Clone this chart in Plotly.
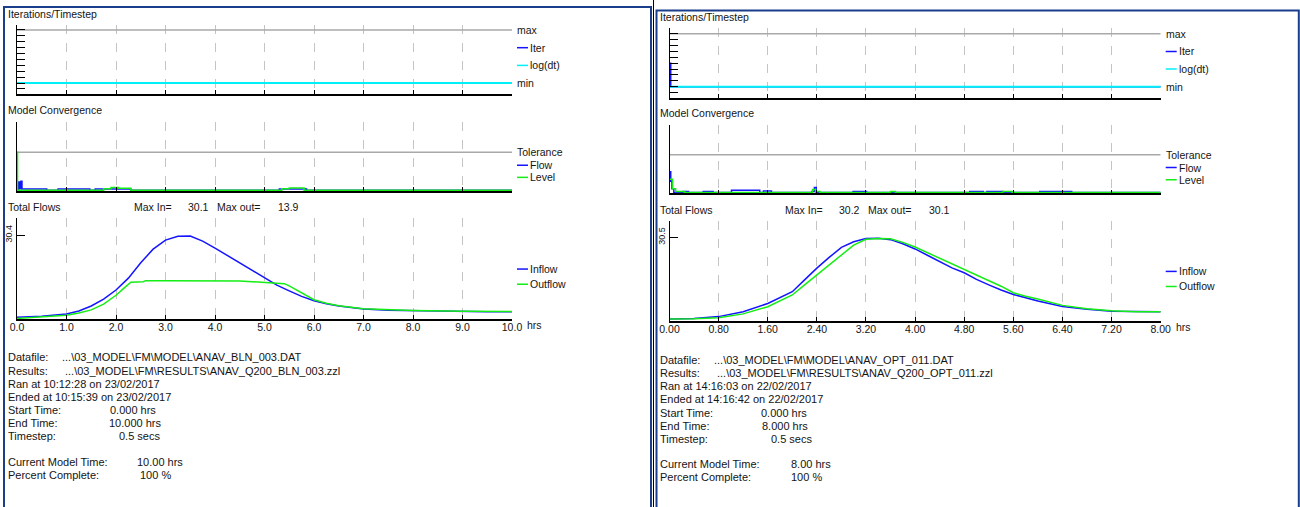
import plotly.graph_objects as go

W, H = 1300, 507

# ======================= DATA =======================
# ---- Left run: ANAV_BLN_003 (0 - 10 hrs) ----
hrs_ticks_L = [0, 1, 2, 3, 4, 5, 6, 7, 8, 9, 10]
hrs_text_L = ["0.0", "1.0", "2.0", "3.0", "4.0", "5.0", "6.0", "7.0", "8.0", "9.0", "10.0"]

t_inflow_L = [0, 0.5, 1.0, 1.25, 1.5, 1.75, 2.0, 2.25, 2.5, 2.75, 3.0, 3.25, 3.5, 3.75, 4.0,
              4.25, 4.5, 4.75, 5.0, 5.25, 5.5, 5.75, 6.0, 6.25, 6.5, 7.0, 7.5, 8.0, 8.5, 9.0, 9.5, 10.0]
inflow_L = [0.6, 1.0, 1.8, 2.9, 4.7, 7.2, 10.5, 14.8, 20.4, 25.3, 28.6, 30.0, 30.1, 28.2, 25.7,
            23.0, 20.3, 17.5, 14.8, 12.3, 10.2, 8.2, 6.6, 5.5, 4.7, 3.6, 3.2, 3.0, 2.8, 2.7, 2.6, 2.6]

t_outflow_L = [0, 0.5, 1.0, 1.25, 1.5, 1.75, 2.0, 2.15, 2.3, 2.55, 2.6, 3.0, 4.0, 4.5, 4.75, 5.0,
               5.2, 5.4, 5.5, 5.6, 5.75, 6.0, 6.25, 6.5, 7.0, 7.5, 8.0, 9.0, 10.0]
outflow_L = [0.2, 0.7, 1.4, 2.2, 3.3, 5.4, 8.6, 11.0, 13.3, 13.5, 13.9, 13.9, 13.9, 13.8, 13.5, 13.3,
             13.2, 12.8, 12.0, 11.0, 9.4, 7.0, 5.7, 4.8, 3.7, 3.3, 3.1, 2.8, 2.7]

t_conv_flow_L = [0, 0.03, 0.05, 0.08, 0.1, 0.6, 0.83, 1.47, 1.58, 2.3, 5.3, 5.85, 10]
conv_flow_L = [0.02, 0.22, 0.04, 0.24, 0.03, 0.0, 0.03, 0.0, 0.03, 0.0, 0.03, 0.0, 0.0]
t_conv_level_L = [0, 0.01, 1.75, 1.9, 2.05, 2.3, 5.35, 5.5, 5.8, 10]
conv_level_L = [1.0, 0.0, 0.04, 0.07, 0.05, 0.0, 0.04, 0.06, 0.0, 0.0]

t_iter_L = [0, 10]
iter_L = [2, 2]
logdt_L = [2, 2]

max_in_L = "30.1"
max_out_L = "13.9"
flow_tick_L = 30.4

info_L = {
    "datafile": "...\\03_MODEL\\FM\\MODEL\\ANAV_BLN_003.DAT",
    "results": "...\\03_MODEL\\FM\\RESULTS\\ANAV_Q200_BLN_003.zzl",
    "ran": "Ran at 10:12:28 on 23/02/2017",
    "ended": "Ended at 10:15:39 on 23/02/2017",
    "start": "0.000 hrs",
    "end": "10.000 hrs",
    "step": "0.5 secs",
    "current": "10.00 hrs",
    "percent": "100 %",
}

# ---- Right run: ANAV_OPT_011 (0 - 8 hrs) ----
hrs_ticks_R = [0, 0.8, 1.6, 2.4, 3.2, 4.0, 4.8, 5.6, 6.4, 7.2, 8.0]
hrs_text_R = ["0.00", "0.80", "1.60", "2.40", "3.20", "4.00", "4.80", "5.60", "6.40", "7.20", "8.00"]

t_flows_R = [0, 0.4, 0.8, 1.2, 1.6, 2.0, 2.2, 2.4, 2.6, 2.8, 3.0, 3.2, 3.4, 3.6, 3.8, 4.0, 4.2,
             4.4, 4.6, 4.8, 5.0, 5.2, 5.4, 5.6, 5.8, 6.0, 6.4, 6.8, 7.2, 7.6, 8.0]
inflow_R = [0.7, 0.9, 1.6, 3.4, 6.4, 10.7, 15.0, 19.3, 23.2, 26.9, 28.9, 30.1, 30.2, 29.7, 28.2, 26.3,
            24.0, 21.6, 19.4, 17.6, 15.2, 13.2, 11.3, 9.7, 8.4, 7.3, 5.3, 4.3, 3.6, 3.4, 3.4]
outflow_R = [0.7, 0.8, 1.2, 2.6, 5.2, 9.5, 13.2, 16.8, 20.3, 24.2, 27.7, 29.8, 30.1, 30.0, 28.7, 27.0,
             25.0, 22.9, 20.8, 18.8, 16.7, 14.8, 12.7, 10.3, 9.0, 8.0, 5.7, 4.5, 3.7, 3.4, 3.4]

t_conv_flow_R = [0, 0.02, 0.04, 0.07, 0.22, 0.31, 0.55, 0.71, 1.01, 1.47, 1.53, 1.66, 2.32, 2.36,
                 2.39, 2.99, 3.21, 4.89, 5.11, 5.17, 5.43, 6.03, 6.55, 8.0]
conv_flow_R = [0.55, 0.3, 0.1, 0.0, 0.03, 0.0, 0.03, 0.0, 0.06, 0.0, 0.04, 0.0, 0.03, 0.13,
               0.0, 0.03, 0.0, 0.03, 0.0, 0.03, 0.0, 0.03, 0.0, 0.0]
t_conv_level_R = [0, 0.05, 0.1, 0.25, 2.33, 2.38, 2.45, 3.6, 3.68, 5.43, 5.58, 8.0]
conv_level_R = [0.35, 0.1, 0.03, 0.0, 0.08, 0.03, 0.0, 0.03, 0.0, 0.03, 0.0, 0.0]

t_iter_R = [0, 0.02, 8]
iter_R = [6, 2, 2]
logdt_R = [2, 2, 2]

max_in_R = "30.2"
max_out_R = "30.1"
flow_tick_R = 30.5

info_R = {
    "datafile": "...\\03_MODEL\\FM\\MODEL\\ANAV_OPT_011.DAT",
    "results": "...\\03_MODEL\\FM\\RESULTS\\ANAV_Q200_OPT_011.zzl",
    "ran": "Ran at 14:16:03 on 22/02/2017",
    "ended": "Ended at 14:16:42 on 22/02/2017",
    "start": "0.000 hrs",
    "end": "8.000 hrs",
    "step": "0.5 secs",
    "current": "8.00 hrs",
    "percent": "100 %",
}

# shared scale constants
iter_ticks = [1, 2, 3, 4, 5, 6, 7, 8, 9, 10, 11]
iter_max = 11
tolerance = 1.0

# ======================= STYLE =======================
BLUE = "#1414ff"
GREEN = "#14ee14"
CYAN = "#00f0f8"
GREY = "#a9a9a9"
GRID = "#c4c4c4"
FRAME = "#1a3d8c"
TXT = "#141414"
FONT = "Liberation Sans"

fig = go.Figure()
annotations = []
shapes = []


def px_x(p):
    return p / W


def px_y(p):
    return 1 - p / H


def add_axes(n, x0, x1, y0, y1, xrange, yrange, xticks, xtext=None, yticks=None, ytext=None):
    s = "" if n == 1 else str(n)
    xa = dict(domain=[px_x(x0), px_x(x1)], range=xrange, anchor="y" + s, automargin=False,
              showline=True, linecolor="black", linewidth=1.5, mirror=False,
              showgrid=True, gridcolor=GRID, griddash="dash", gridwidth=1,
              zeroline=False, ticks="inside", ticklen=4, tickcolor="black", tickwidth=1,
              tickmode="array", tickvals=xticks, fixedrange=True)
    if xtext is None:
        xa["showticklabels"] = False
    else:
        xa["ticktext"] = xtext
        xa["tickfont"] = dict(family=FONT, size=10.5, color=TXT)
        xa["ticklabelstandoff"] = -2
    ya = dict(domain=[px_y(y1), px_y(y0)], range=yrange, anchor="x" + s, automargin=False,
              showline=True, linecolor="black", linewidth=1, showgrid=False, zeroline=False,
              fixedrange=True)
    if yticks is None:
        ya["showticklabels"] = False
        ya["ticks"] = ""
    else:
        ya.update(tickmode="array", tickvals=yticks, ticks="inside", ticklen=8,
                  tickcolor="black", tickwidth=1)
        if ytext is None:
            ya["showticklabels"] = False
        else:
            ya.update(ticktext=ytext, tickangle=-90,
                      tickfont=dict(family=FONT, size=9, color=TXT))
    fig.layout["xaxis" + s] = xa
    fig.layout["yaxis" + s] = ya
    return s


def line(s, x, y, color, width=1.5, shape="linear"):
    fig.add_trace(go.Scatter(x=x, y=y, xaxis="x" + s, yaxis="y" + s, mode="lines",
                             line=dict(color=color, width=width, shape=shape),
                             hoverinfo="skip", showlegend=False))


def text_px(xp, yp, t, size=11, xanchor="left"):
    annotations.append(dict(x=px_x(xp), y=px_y(yp), xref="paper", yref="paper", text=t,
                            showarrow=False, xanchor=xanchor, yanchor="middle",
                            font=dict(family=FONT, size=size, color=TXT)))


def label(s, x_end_px, y, t, color=None):
    """Right-hand label of a plot; with a short coloured sample line if color given."""
    shift = 3
    if color is not None:
        shapes.append(dict(type="line", xref="paper", yref="y" + s,
                           x0=px_x(x_end_px + 5), x1=px_x(x_end_px + 16), y0=y, y1=y,
                           line=dict(color=color, width=1.5)))
        shift = 16
    annotations.append(dict(x=px_x(x_end_px), y=y, xref="paper", yref="y" + s, text=t,
                            showarrow=False, xanchor="left", yanchor="middle", xshift=shift,
                            font=dict(family=FONT, size=10.5, color=TXT)))


def build_panel(base, x0, x1, ys, end, ticks, ticktext, t_iter, it, logdt,
                t_cf, cf, t_cl, cl, t_in, inflow, t_out, outflow, flow_tick, fy_top):
    (a0, a1), (b0, b1), (c0, c1) = ys
    # ---- Iterations / Timestep ----
    iter_span = (a1 - a0) / 5.9
    s1 = add_axes(base, x0, x1, a0, a1, [0, end], [0.15, 0.15 + iter_span], ticks,
                  yticks=iter_ticks)
    line(s1, [0, end], [iter_max, iter_max], GREY, 1.5)
    line(s1, t_iter, it, BLUE, 1.5, "hv")
    line(s1, t_iter, logdt, CYAN, 2, "hv")
    label(s1, x1, iter_max, "max")
    label(s1, x1, 8, "Iter", BLUE)
    label(s1, x1, 5, "log(dt)", CYAN)
    label(s1, x1, 2, "min")
    # ---- Model Convergence ----
    conv_top = (b1 - b0) / 38.3
    s2 = add_axes(base + 1, x0, x1, b0, b1, [0, end], [-0.02, conv_top], ticks)
    line(s2, [0, end], [tolerance, tolerance], GREY, 1.5)
    line(s2, t_cf, cf, BLUE, 1.5, "hv")
    line(s2, t_cl, cl, GREEN, 1.5, "hv")
    label(s2, x1, tolerance, "Tolerance")
    label(s2, x1, 0.66, "Flow", BLUE)
    label(s2, x1, 0.34, "Level", GREEN)
    # ---- Total Flows ----
    s3 = add_axes(base + 2, x0, x1, c0, c1, [0, end], [0, fy_top], ticks, xtext=ticktext,
                  yticks=[flow_tick], ytext=["%.1f" % flow_tick])
    line(s3, t_in, inflow, BLUE, 1.5)
    line(s3, t_out, outflow, GREEN, 1.5)
    label(s3, x1, 18.1, "Inflow", BLUE)
    label(s3, x1, 12.6, "Outflow", GREEN)
    annotations.append(dict(x=end, y=px_y(c1 + 5.5), xref="x" + s3, yref="paper", text="hrs",
                            showarrow=False, xanchor="left", yanchor="middle", xshift=13,
                            font=dict(family=FONT, size=10.5, color=TXT)))


# ---- left panel ----
build_panel(1, 17, 512, [(25, 94), (122, 191), (218, 319)], 10, hrs_ticks_L, hrs_text_L,
            t_iter_L, iter_L, logdt_L, t_conv_flow_L, conv_flow_L, t_conv_level_L, conv_level_L,
            t_inflow_L, inflow_L, t_outflow_L, outflow_L, flow_tick_L, 36.6)
# ---- right panel ----
build_panel(4, 669.5, 1160.7, [(28.3, 97.7), (125, 193.3), (221, 321)], 8, hrs_ticks_R, hrs_text_R,
            t_iter_R, iter_R, logdt_R, t_conv_flow_R, conv_flow_R, t_conv_level_R, conv_level_R,
            t_flows_R, inflow_R, t_flows_R, outflow_R, flow_tick_R, 36.5)

# ---- section titles ----
for (xl, dy, mi, mo) in [(6, 0, max_in_L, max_out_L), (658, 3, max_in_R, max_out_R)]:
    text_px(xl, 14 + dy, "Iterations/Timestep", size=10.5)
    text_px(xl, 110 + dy, "Model Convergence", size=10.5)
    text_px(xl, 207 + dy, "Total Flows", size=10.5)
    off = 0 if xl == 6 else 650.5
    text_px(132 + off, 207 + dy, "Max In=", size=10.5)
    text_px(186 + off, 207 + dy, mi, size=10.5)
    text_px(215 + off, 207 + dy, "Max out=", size=10.5)
    text_px(276 + off, 207 + dy, mo, size=10.5)


# ---- run information text ----
def info_block(x_lab, dy, info, xv):
    rows = [357, 370.5, 383.5, 396.5, 410, 423, 436, 461.5, 474.5]
    r = [v + dy for v in rows]
    text_px(x_lab, r[0], "Datafile:")
    text_px(xv[0], r[0], info["datafile"])
    text_px(x_lab, r[1], "Results:")
    text_px(xv[1], r[1], info["results"])
    text_px(x_lab, r[2], info["ran"])
    text_px(x_lab, r[3], info["ended"])
    text_px(x_lab, r[4], "Start Time:")
    text_px(xv[2], r[4], info["start"])
    text_px(x_lab, r[5], "End Time:")
    text_px(xv[3], r[5], info["end"])
    text_px(x_lab, r[6], "Timestep:")
    text_px(xv[4], r[6], info["step"])
    text_px(x_lab, r[7], "Current Model Time:")
    text_px(xv[5], r[7], info["current"])
    text_px(x_lab, r[8], "Percent Complete:")
    text_px(xv[6], r[8], info["percent"])


info_block(6, 0, info_L, [60, 63, 107.5, 107, 117, 135, 138])
info_block(657.5, 2.5, info_R, [711.5, 715, 758.5, 760, 768.5, 788.5, 788.5])

# ---- window frames ----
shapes += [
    dict(type="rect", xref="paper", yref="paper", x0=px_x(4), x1=px_x(651), y0=px_y(7), y1=px_y(515),
         line=dict(color=FRAME, width=2), fillcolor="rgba(0,0,0,0)", layer="above"),
    dict(type="line", xref="paper", yref="paper", x0=px_x(653.5), x1=px_x(653.5), y0=px_y(0), y1=px_y(515),
         line=dict(color="black", width=1), layer="above"),
    dict(type="rect", xref="paper", yref="paper", x0=px_x(656.5), x1=px_x(1298.8), y0=px_y(10.5), y1=px_y(515),
         line=dict(color=FRAME, width=2), fillcolor="rgba(0,0,0,0)", layer="above"),
]

fig.update_layout(width=W, height=H,
                  margin=dict(l=0, r=0, t=0, b=0, pad=0, autoexpand=False),
                  paper_bgcolor="white", plot_bgcolor="white", showlegend=False,
                  font=dict(family=FONT, size=10, color=TXT),
                  annotations=annotations, shapes=shapes)

fig.write_html("out.html", config={"displayModeBar": False},
               post_script="document.body.style.margin='0';"
                           "document.documentElement.style.overflow='hidden';"
                           "document.body.style.overflow='hidden';")
